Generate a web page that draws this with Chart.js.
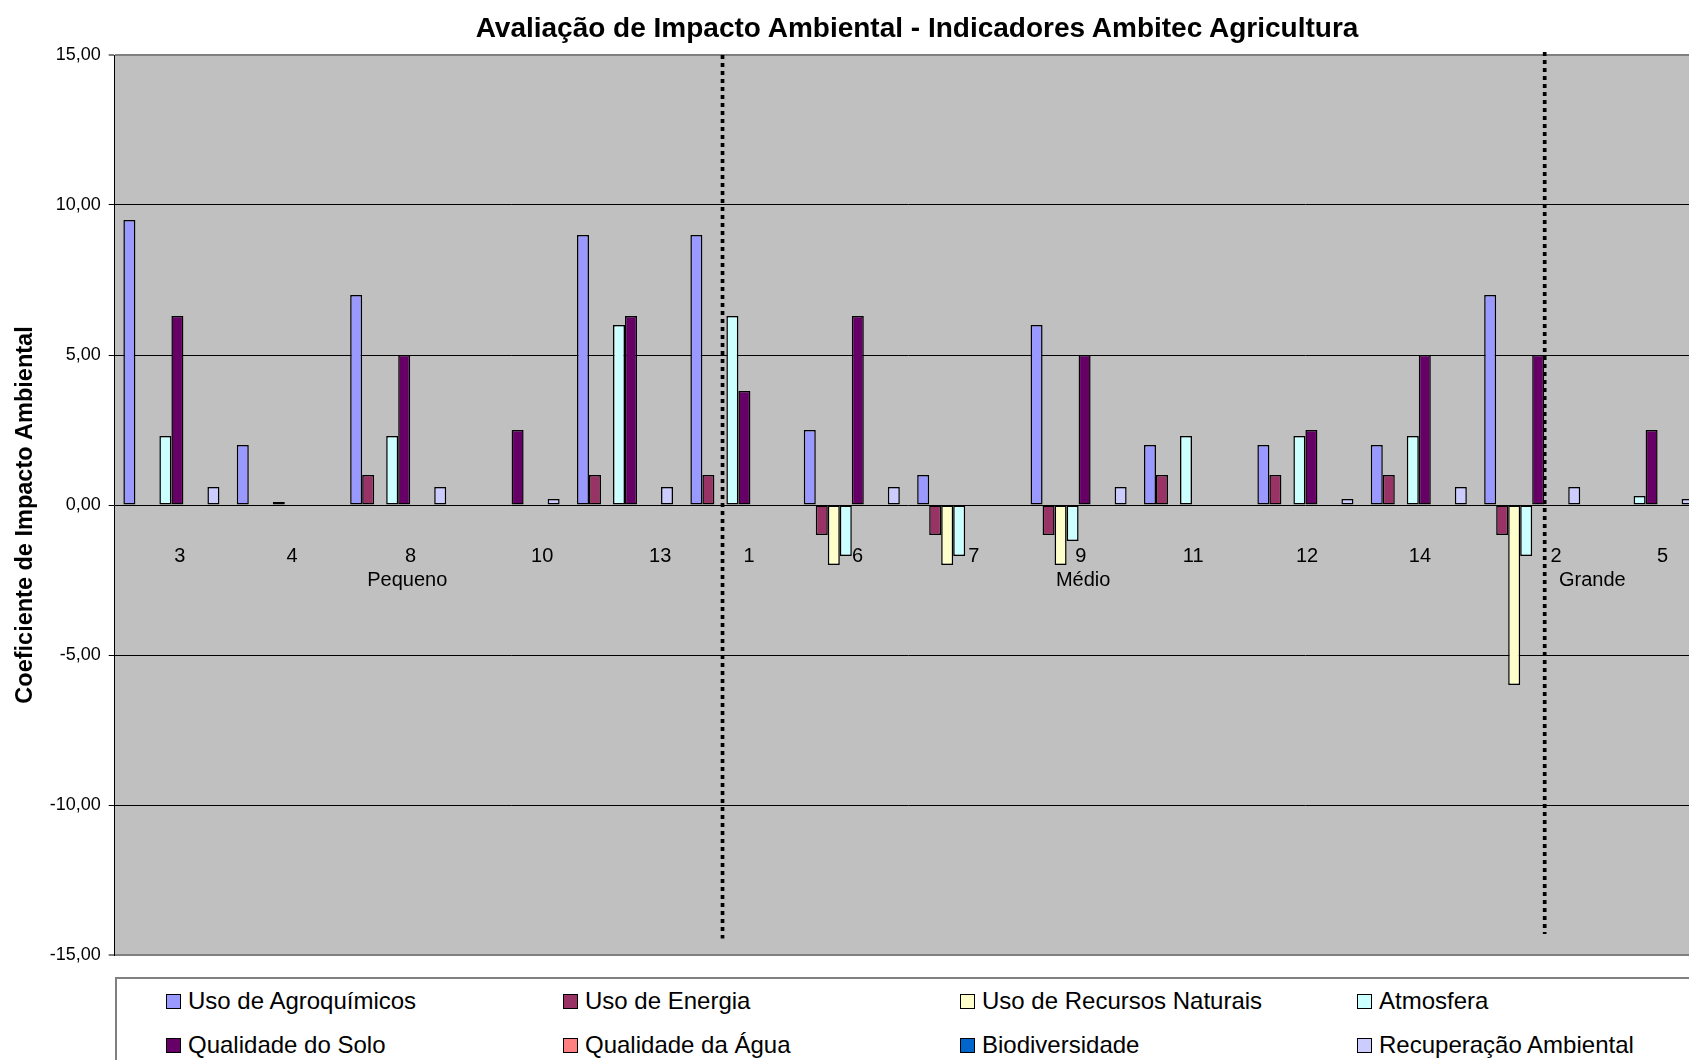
<!DOCTYPE html>
<html lang="pt-BR">
<head>
<meta charset="utf-8">
<title>Avaliação de Impacto Ambiental - Indicadores Ambitec Agricultura</title>
<script src="https://cdn.jsdelivr.net/npm/chart.js@4.4.1/dist/chart.umd.min.js"></script>
<style>
  html, body { margin: 0; padding: 0; background: #fff; overflow: hidden; width: 1689px; height: 1060px; }
  #frame { position: relative; width: 1834px; height: 1060px; font-family: "Liberation Sans", Arial, sans-serif; color: #000; }
  #title { position: absolute; left: 0; top: 0; width: 1834px; height: 55px; line-height: 55px; text-align: center; font-weight: bold; font-size: 28px; }
  #chart { position: absolute; left: 0; top: 0; }
  #legend { position: absolute; left: 115px; top: 977px; width: 1650px; height: 140px; box-sizing: border-box;
            border: 2px solid #808080; padding-left: 49px;
            display: grid; grid-template-columns: repeat(4, 397px); grid-auto-rows: 44px; }
  .item { display: flex; align-items: center; font-size: 24px; white-space: nowrap; }
  .swatch { width: 15px; height: 15px; box-sizing: border-box; border: 1.5px solid #000; margin-right: 7px; flex: none; }
</style>
</head>
<body>
<div id="frame">
  <canvas id="chart" width="1834" height="975"></canvas>
  <div id="title">Avaliação de Impacto Ambiental - Indicadores Ambitec Agricultura</div>
  <div id="legend"></div>
</div>
<script>
// ---- data ----
const categories = ['3', '4', '8', '10', '13', '1', '6', '7', '9', '11', '12', '14', '2', '5'];
const groupNames = ['Pequeno', 'Médio', 'Grande'];
const groupSizes = [5, 7, 2];

const seriesNames = [
  'Uso de Agroquímicos', 'Uso de Energia', 'Uso de Recursos Naturais', 'Atmosfera',
  'Qualidade do Solo', 'Qualidade da Água', 'Biodiversidade', 'Recuperação Ambiental'
];

const usoAgroquimicos  = [9.5, 2.0, 7.0, 0,   9.0, 9.0, 2.5,  1.0,  6.0,  2.0, 2.0, 2.0, 7.0, 0];
const usoEnergia       = [0,   0,   1.0, 0,   1.0, 1.0, -1.0, -1.0, -1.0, 1.0, 1.0, 1.0, -1.0, 0];
const usoRecursos      = [0,   0,   0,   0,   0,   0,   -2.0, -2.0, -2.0, 0,   0,   0,   -6.0, 0];
const atmosfera        = [2.3, 0.1, 2.3, 0,   6.0, 6.3, -1.7, -1.7, -1.2, 2.3, 2.3, 2.3, -1.7, 0.3];
const qualidadeSolo    = [6.3, 0,   5.0, 2.5, 6.3, 3.8, 6.3,  0,    5.0,  0,   2.5, 5.0, 5.0, 2.5];
const qualidadeAgua    = [0,   0,   0,   0,   0,   0,   0,    0,    0,    0,   0,   0,   0,   0];
const biodiversidade   = [0,   0,   0,   0,   0,   0,   0,    0,    0,    0,   0,   0,   0,   0];
const recuperacao      = [0.6, 0,   0.6, 0.2, 0.6, 0,   0.6,  0,    0.6,  0,   0.2, 0.6, 0.6, 0.2];

const seriesValues = [usoAgroquimicos, usoEnergia, usoRecursos, atmosfera,
                      qualidadeSolo, qualidadeAgua, biodiversidade, recuperacao];

const yTickValues = [-15, -10, -5, 0, 5, 10, 15];
const yAxisTitle = 'Coeficiente de Impacto Ambiental';

// ---- styling / layout ----
const seriesColors = ['#9999FF', '#993366', '#FFFFCC', '#CCFFFF', '#660066', '#FF8080', '#0066CC', '#CCCCFF'];
const FONT = '"Liberation Sans", Arial, sans-serif';
// label shifts, in category widths
const tickNudge  = [0.075, 0.065, 0.11, 0.27, 0.31, 0.095, 0.05, 0.075, 0.02, 0.01, 0.015, 0.01, 0.21, 0.15];
const groupNudge = [0.08, 0.04, 0.03];
// dotted separators between size classes (category index, value range)
const separators = [
  { at: 4.86,  from: 15,   to: -14.45 },
  { at: 12.11, from: 15.1, to: -14.3 }
];

Chart.defaults.font.family = FONT;
Chart.defaults.color = '#000';

const plotBackground = {
  id: 'plotBackground',
  beforeDraw(chart) {
    const { ctx, chartArea: a } = chart;
    ctx.save();
    ctx.fillStyle = '#C0C0C0';
    ctx.fillRect(a.left, a.top, a.right - a.left, a.bottom - a.top);
    ctx.restore();
  }
};

const categoryLabels = {
  id: 'categoryLabels',
  beforeDatasetsDraw(chart) {
    const { ctx, scales: { x, y } } = chart;
    const w = x.getPixelForValue(1) - x.getPixelForValue(0);
    const zeroY = y.getPixelForValue(0);
    ctx.save();
    ctx.fillStyle = '#000';
    ctx.textAlign = 'center';
    ctx.textBaseline = 'alphabetic';
    ctx.font = '20px ' + FONT;
    categories.forEach((c, i) => {
      ctx.fillText(c, x.getPixelForValue(i) + tickNudge[i] * w, zeroY + 56.5);
    });
    let start = 0;
    groupNames.forEach((g, k) => {
      const end = start + groupSizes[k] - 1;
      const cx = (x.getPixelForValue(start) + x.getPixelForValue(end)) / 2 + groupNudge[k] * w;
      ctx.fillText(g, cx, zeroY + 81);
      start = end + 1;
    });
    ctx.restore();
  }
};

// rotated value-axis title, centred a little below the plot's middle
const valueAxisTitle = {
  id: 'valueAxisTitle',
  afterDraw(chart) {
    const { ctx, chartArea: a } = chart;
    ctx.save();
    ctx.translate(26, (a.top + a.bottom) / 2 + 10);
    ctx.rotate(-Math.PI / 2);
    ctx.fillStyle = '#000';
    ctx.textAlign = 'center';
    ctx.textBaseline = 'middle';
    ctx.font = 'bold 23.5px ' + FONT;
    ctx.fillText(yAxisTitle, 0, 0);
    ctx.restore();
  }
};

const separatorLines = {
  id: 'separatorLines',
  afterDatasetsDraw(chart) {
    const { ctx, scales: { x, y } } = chart;
    ctx.save();
    ctx.strokeStyle = '#000';
    ctx.lineWidth = 3.7;
    ctx.setLineDash([4, 4]);
    ctx.lineCap = 'butt';
    separators.forEach(s => {
      const px = x.getPixelForValue(s.at);
      ctx.beginPath();
      ctx.moveTo(px, y.getPixelForValue(s.from));
      ctx.lineTo(px, y.getPixelForValue(s.to));
      ctx.stroke();
    });
    ctx.restore();
  }
};

const isEdge = ctx => ctx.tick && Math.abs(ctx.tick.value) === 15;

new Chart(document.getElementById('chart'), {
  type: 'bar',
  data: {
    labels: categories,
    datasets: seriesNames.map((name, k) => ({
      label: name,
      data: seriesValues[k],
      backgroundColor: seriesColors[k],
      borderColor: '#000',
      borderWidth: c => (c.raw === 0 ? 0 : 1.5),
      borderSkipped: false,
      categoryPercentage: 0.847,
      barPercentage: 1
    }))
  },
  options: {
    responsive: false,
    devicePixelRatio: 1,
    animation: false,
    events: [],
    layout: { padding: { top: 55, bottom: 20, left: 0, right: 131.7 } },
    plugins: {
      legend: { display: false },
      tooltip: { enabled: false },
      title: { display: false }
    },
    scales: {
      x: { display: false, offset: true },
      y: {
        min: -15,
        max: 15,
        afterFit(scale) { scale.width = 114.7; },
        afterBuildTicks(scale) { scale.ticks = yTickValues.map(v => ({ value: v })); },
        ticks: {
          color: '#000',
          padding: 8,
          font: { size: 18, family: FONT },
          callback: v => Number(v).toFixed(2).replace('.', ',')
        },
        grid: {
          color: c => (isEdge(c) ? '#808080' : '#000'),
          lineWidth: c => (isEdge(c) ? 2 : 1),
          tickColor: '#000',
          tickWidth: 1,
          tickLength: 6,
          drawTicks: true
        },
        border: { color: '#000', width: 1 },
        title: { display: false }
      }
    }
  },
  plugins: [plotBackground, categoryLabels, separatorLines, valueAxisTitle]
});

// legend built from the same series names and colours
const legend = document.getElementById('legend');
seriesNames.forEach((name, k) => {
  const item = document.createElement('div');
  item.className = 'item';
  const sw = document.createElement('span');
  sw.className = 'swatch';
  sw.style.background = seriesColors[k];
  const txt = document.createElement('span');
  txt.textContent = name;
  item.appendChild(sw);
  item.appendChild(txt);
  legend.appendChild(item);
});
</script>
</body>
</html>
